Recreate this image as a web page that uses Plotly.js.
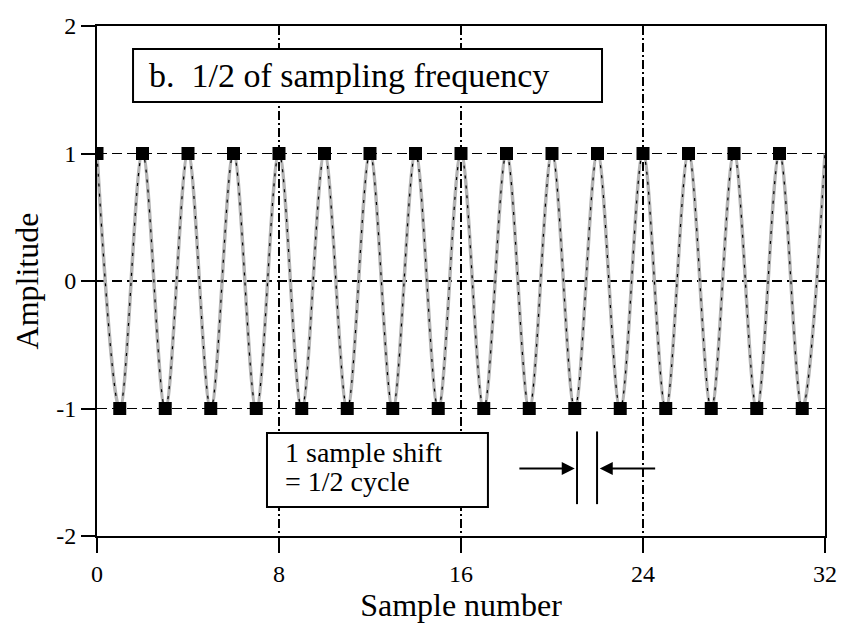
<!DOCTYPE html>
<html>
<head>
<meta charset="utf-8">
<script src="https://cdn.plot.ly/plotly-3.0.1.min.js"></script>
<style>
#chart svg text { font-family: "Liberation Serif", "Times New Roman", serif !important; }
#preload { position:absolute; left:0; top:0; font-family:"Liberation Serif"; font-size:24px; color:#fff; z-index:-1; }
</style>
</head>
<body style="margin:0">
<span id="preload">Sample number 0123456789</span>
<div id="chart"></div>
<script>
// Sampled points (sample number, amplitude)
const sampleNumber = [0,1,2,3,4,5,6,7,8,9,10,11,12,13,14,15,16,17,18,19,20,21,22,23,24,25,26,27,28,29,30,31];
const sampleAmplitude = [1,-1,1,-1,1,-1,1,-1,1,-1,1,-1,1,-1,1,-1,1,-1,1,-1,1,-1,1,-1,1,-1,1,-1,1,-1,1,-1];
// Continuous sinusoid knots (drawn smooth through them)
const waveX = [0,1,2,3,4,5,6,7,8,9,10,11,12,13,14,15,16,17,18,19,20,21,22,23,24,25,26,27,28,29,30,31,32];
const waveY = [1,-1,1,-1,1,-1,1,-1,1,-1,1,-1,1,-1,1,-1,1,-1,1,-1,1,-1,1,-1,1,-1,1,-1,1,-1,1,-1,1];
const xTicks = [0,8,16,24,32];
const yTicks = [-2,-1,0,1,2];
const titleText = "b.  1/2 of sampling frequency";
const noteLine1 = "1 sample shift";
const noteLine2 = "= 1/2 cycle";
const FONT = 'Liberation Serif';

const traces = [
  {x: waveX, y: waveY, type: 'scatter', mode: 'lines',
   line: {color: '#b4b4b4', width: 3.5, shape: 'spline', smoothing: 1}, hoverinfo: 'skip'},
  {x: waveX, y: waveY, type: 'scatter', mode: 'lines',
   line: {color: '#000', width: 1.2, shape: 'spline', smoothing: 1, dash: '3px,7px'}, hoverinfo: 'skip'},
  {x: sampleNumber, y: sampleAmplitude, type: 'scatter', mode: 'markers',
   marker: {symbol: 'square', size: 13, color: '#000'}}
];
const layout = {
  width: 842, height: 625,
  margin: {l: 97, r: 17, t: 26, b: 89},
  paper_bgcolor: '#fff', plot_bgcolor: '#fff',
  showlegend: false,
  font: {family: FONT, size: 24, color: '#000'},
  xaxis: {
    range: [0, 32], tickvals: xTicks, ticktext: xTicks.map(String),
    ticks: 'outside', ticklen: 15, tickwidth: 2, tickcolor: '#000',
    showline: true, linecolor: '#000', linewidth: 2, mirror: true,
    showgrid: true, gridcolor: '#000', gridwidth: 1.3, griddash: '9px,3px,2px,3px',
    zeroline: false,
    tickfont: {family: FONT, size: 24, color: '#000'},
    title: {text: 'Sample number', font: {family: FONT, size: 32, color: '#000'}, standoff: 2}
  },
  yaxis: {
    range: [-2, 2], tickvals: yTicks, ticktext: yTicks.map(String),
    ticks: 'outside', ticklen: 14, tickwidth: 2, tickcolor: '#000',
    showline: true, linecolor: '#000', linewidth: 2, mirror: true,
    showgrid: true, gridcolor: '#000', gridwidth: 1.5, griddash: '10px,5px',
    zeroline: false,
    tickfont: {family: FONT, size: 24, color: '#000'},
    title: {text: 'Amplitude', font: {family: FONT, size: 32, color: '#000'}, standoff: 8}
  },
  shapes: [
    {type: 'rect', xref: 'paper', yref: 'paper', x0: 0.0495, x1: 0.6937, y0: 0.851, y1: 0.9549,
     line: {color: '#000', width: 2}, fillcolor: '#fff', layer: 'above'},
    {type: 'rect', xref: 'paper', yref: 'paper', x0: 0.2335, x1: 0.537, y0: 0.0569, y1: 0.202,
     line: {color: '#000', width: 2}, fillcolor: '#fff', layer: 'above'},
    {type: 'line', xref: 'x', yref: 'y', x0: 21.1, x1: 21.1, y0: -1.18, y1: -1.75, line: {color: '#000', width: 2}},
    {type: 'line', xref: 'x', yref: 'y', x0: 21.98, x1: 21.98, y0: -1.18, y1: -1.75, line: {color: '#000', width: 2}}
  ],
  annotations: [
    {xref: 'paper', yref: 'paper', x: 0.068, y: 0.903, xanchor: 'left', yanchor: 'middle',
     text: titleText, showarrow: false, align: 'left', font: {family: FONT, size: 34, color: '#000'}},
    {xref: 'paper', yref: 'paper', x: 0.255, y: 0.1647, xanchor: 'left', yanchor: 'middle',
     text: noteLine1, showarrow: false, align: 'left', font: {family: FONT, size: 28, color: '#000'}},
    {xref: 'paper', yref: 'paper', x: 0.255, y: 0.1059, xanchor: 'left', yanchor: 'middle',
     text: noteLine2, showarrow: false, align: 'left', font: {family: FONT, size: 28, color: '#000'}},
    {xref: 'x', yref: 'y', x: 21.0, y: -1.47, ax: 18.5, ay: -1.47, axref: 'x', ayref: 'y',
     text: '', showarrow: true, arrowhead: 2, arrowsize: 1.3, arrowwidth: 2, arrowcolor: '#000'},
    {xref: 'x', yref: 'y', x: 22.1, y: -1.47, ax: 24.6, ay: -1.47, axref: 'x', ayref: 'y',
     text: '', showarrow: true, arrowhead: 2, arrowsize: 1.3, arrowwidth: 2, arrowcolor: '#000'}
  ]
};
function draw() {
  Plotly.newPlot('chart', traces, layout, {displayModeBar: false, staticPlot: true});
}
if (document.fonts && document.fonts.load) {
  document.fonts.load('24px "Liberation Serif"').then(draw, draw);
} else {
  draw();
}
</script>
</body>
</html>
